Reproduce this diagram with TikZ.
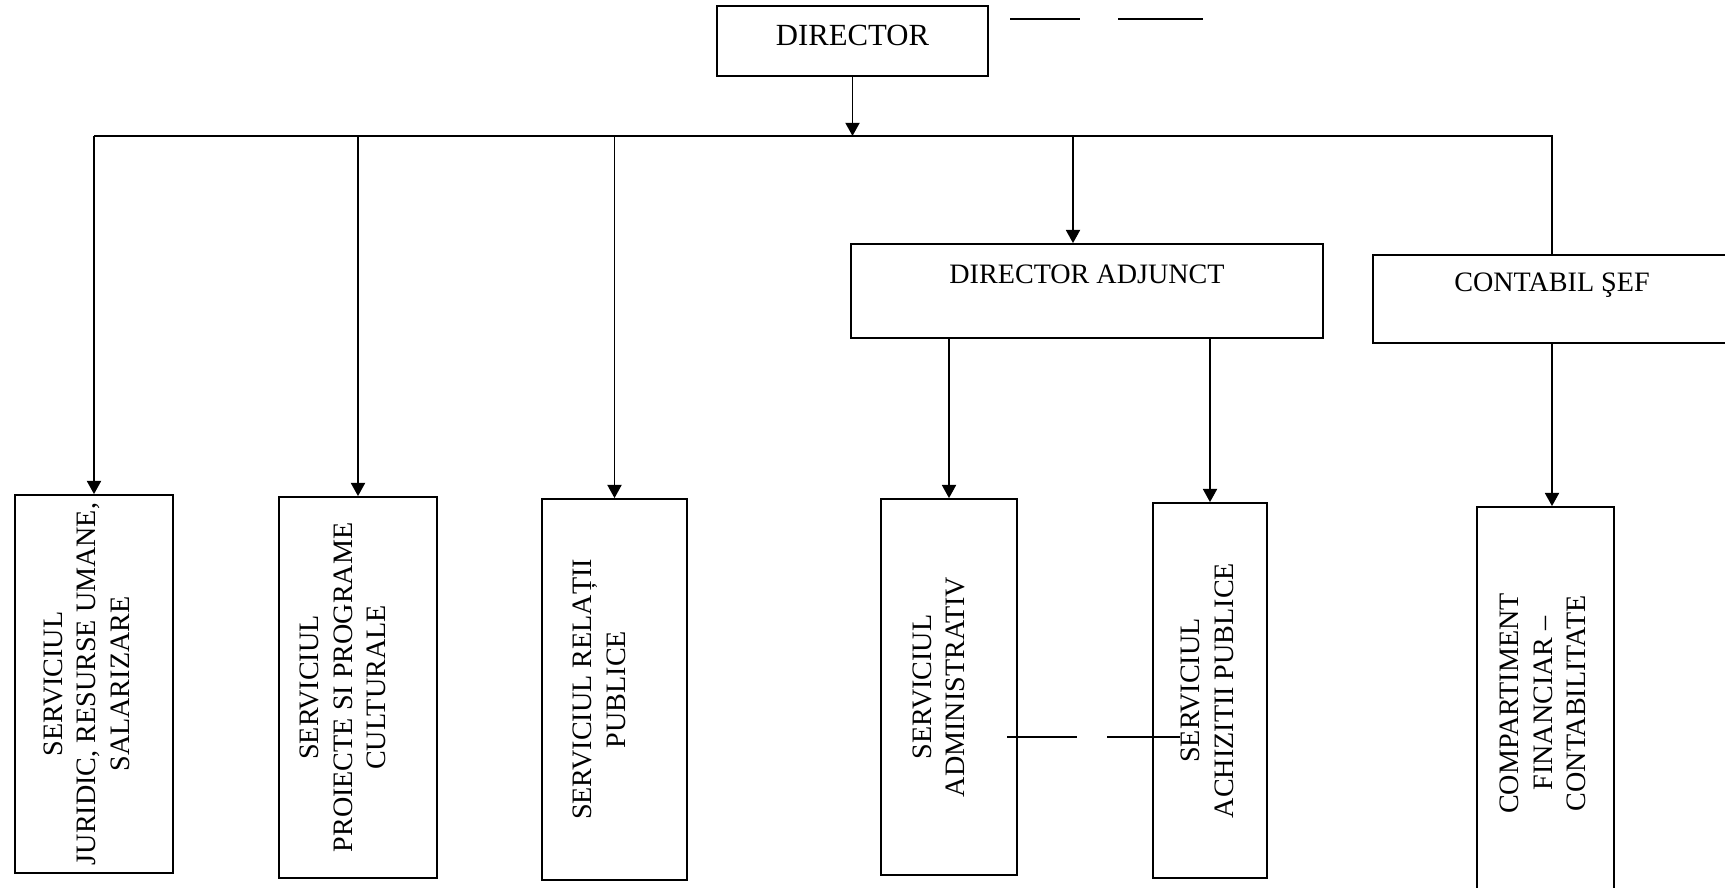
\documentclass[tikz,border=0pt]{standalone}
\usepackage{fontspec}
\setmainfont{Liberation Serif}
\usepackage{graphicx}
\usepackage{tikz}
\usetikzlibrary{positioning}
\usetikzlibrary{arrows.meta}

\newcommand{\vlabel}[1]{\rotatebox{90}{\begin{tabular}{@{}c@{}}#1\end{tabular}}}

\begin{document}
\begin{tikzpicture}[main/.style = {draw, rectangle, inner sep=0pt, line width=1pt, font=\fontsize{16}{19}\selectfont},
    arr/.style = {line width=1pt, -{Triangle[length=7.5pt, width=8pt]}},
    line/.style = {line width=1pt}]
    \useasboundingbox (0,0) rectangle (34.5,17.76);

    \node[main, font=\fontsize{17.5}{21}\selectfont, minimum width=5.42cm, minimum height=1.40cm, text height=0.80cm, text depth=0.60cm] (dir) at (17.05,16.94) {DIRECTOR};
    \node[main, minimum width=9.44cm, minimum height=1.88cm, text height=0.80cm, text depth=1.08cm] (adj) at (21.74,11.94) {DIRECTOR ADJUNCT};
    \node[main, minimum width=7.16cm, minimum height=1.76cm, text height=0.74cm, text depth=1.02cm] (ctb) at (31.04,11.78) {CONTABIL ŞEF};

    \node[main, minimum width=3.16cm, minimum height=7.56cm] (jur) at (1.88,4.08) {\vlabel{SERVICIUL\\JURIDIC, RESURSE UMANE,\\SALARIZARE}\kern0.2cm};
    \node[main, minimum width=3.16cm, minimum height=7.62cm] (pro) at (7.16,4.01) {\vlabel{SERVICIUL\\PROIECTE SI PROGRAME\\CULTURALE}\kern0.5cm};
    \node[main, minimum width=2.90cm, minimum height=7.62cm] (rel) at (12.29,3.97) {\vlabel{SERVICIUL RELAȚII\\PUBLICE}\kern0.5cm};
    \node[main, minimum width=2.72cm, minimum height=7.52cm] (adm) at (18.98,4.02) {\vlabel{SERVICIUL\\ADMINISTRATIV}\kern0.3cm};
    \node[main, minimum width=2.28cm, minimum height=7.50cm] (ach) at (24.20,3.95) {\vlabel{SERVICIUL\\ACHIZITII PUBLICE}};
    \node[main, minimum width=2.74cm, minimum height=7.86cm] (fin) at (30.91,3.69) {\vlabel{COMPARTIMENT\\FINANCIAR –\\CONTABILITATE}};

    \coordinate (bus) at (0,15.04);
    \draw[line] (jur.north |- bus) -- (ctb.north |- bus) -- (ctb.north);
    \draw[arr] (dir) -- (dir |- bus);
    \foreach \n in {jur, pro, rel}
        \draw[arr] (\n.north |- bus) -- (\n.north);
    \draw[arr] ([xshift=-0.28cm]adj.north |- bus) -- ([xshift=-0.28cm]adj.north);
    \draw[arr] (adm.north |- adj.south) -- (adm.north);
    \draw[arr] (ach.north |- adj.south) -- (ach.north);
    \draw[arr] (ctb.south) -- (ctb.south |- fin.north);

    % loose strokes
    \coordinate (t1) at (20.20,17.38);
    \coordinate (t2) at (21.60,17.38);
    \coordinate (t3) at (22.36,17.38);
    \coordinate (t4) at (24.06,17.38);
    \draw[line] (t1) -- (t2);
    \draw[line] (t3) -- (t4);
    \coordinate (m1) at (20.14,3.02);
    \coordinate (m2) at (21.54,3.02);
    \coordinate (m3) at (22.14,3.02);
    \coordinate (m4) at (23.60,3.02);
    \draw[line, line width=0.6pt] (m1) -- (m2);
    \draw[line, line width=0.6pt] (m3) -- (m4);
\end{tikzpicture}
\end{document}
